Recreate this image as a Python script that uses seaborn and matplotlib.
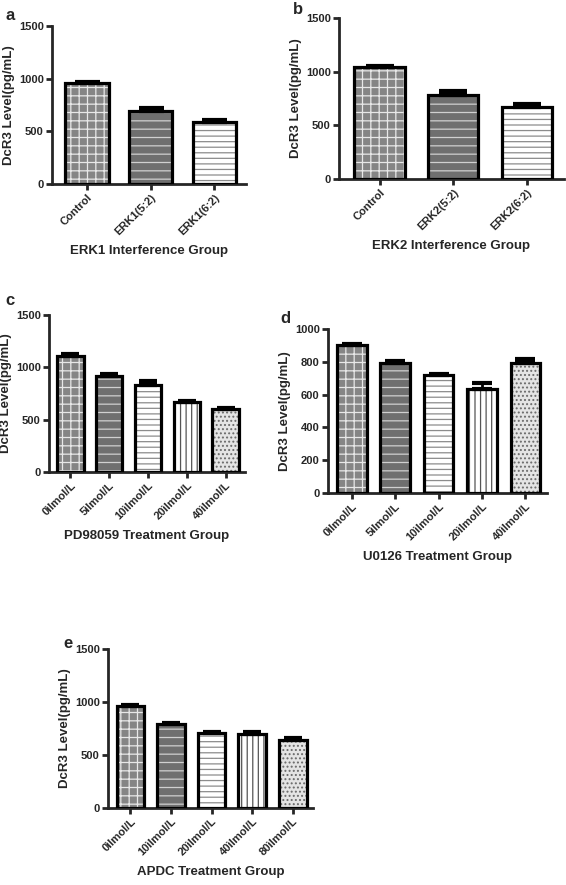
import numpy as np
import pandas as pd
import matplotlib
matplotlib.use('Agg')
import matplotlib.pyplot as plt
import seaborn as sns
from matplotlib.patches import Rectangle

# values: bar height and upper error bar length
erk1_groups = ['Control', 'ERK1(5:2)', 'ERK1(6:2)']
erk1_mean = [960, 695, 590]
erk1_err = [6, 25, 15]

erk2_groups = ['Control', 'ERK2(5:2)', 'ERK2(6:2)']
erk2_mean = [1045, 785, 670]
erk2_err = [10, 35, 30]

pd_groups = ['0ìlmol/L', '5ìlmol/L', '10ìlmol/L', '20ìlmol/L', '40ìlmol/L']
pd_mean = [1110, 915, 835, 665, 605]
pd_err = [15, 20, 30, 10, 5]

u0_groups = ['0ìlmol/L', '5ìlmol/L', '10ìlmol/L', '20ìlmol/L', '40ìlmol/L']
u0_mean = [900, 795, 720, 635, 795]
u0_err = [10, 10, 5, 35, 25]

apdc_groups = ['0ìlmol/L', '10ìlmol/L', '20ìlmol/L', '40ìlmol/L', '80ìlmol/L']
apdc_mean = [960, 790, 710, 700, 640]
apdc_err = [10, 15, 3, 15, 20]

# bar fill styles (face, hatch, hatch colour), same order in every panel
fills = [('#858585', '++', '#e8e8e8'),
         ('#6f6f6f', '--', '#d0d0d0'),
         ('white', '---', '#8c8c8c'),
         ('white', '|||', '#555555'),
         ('#e4e4e4', '....', '#6a6a6a')]

sns.set_style('ticks')
plt.rcParams['font.family'] = ['Liberation Sans', 'DejaVu Sans']
plt.rcParams['font.weight'] = 'bold'
plt.rcParams['axes.labelweight'] = 'bold'
plt.rcParams['hatch.linewidth'] = 0.9

W, H = 566, 885
fig = plt.figure(figsize=(W / 100, H / 100), dpi=100)


def px_axes(left, top, right, bottom):
    return fig.add_axes([left / W, 1 - bottom / H, (right - left) / W, (bottom - top) / H])


def draw_panel(ax, groups, mean, err, xlabel, ymax, ystep, capsize):
    df = pd.DataFrame({'group': groups, 'level': mean})
    sns.barplot(data=df, x='group', y='level', hue='group', palette=[f[0] for f in fills[:len(groups)]],
                legend=False, width=0.68, ax=ax, saturation=1)
    for i, p in enumerate(ax.patches):
        face, hatch, hc = fills[i]
        p.set_hatch(hatch)
        p.set_edgecolor(hc)
        p.set_linewidth(0)
        ax.add_patch(Rectangle((p.get_x(), p.get_y()), p.get_width(), p.get_height(),
                               fill=False, edgecolor='black', linewidth=2.3, zorder=3))
        ax.errorbar(p.get_x() + p.get_width() / 2, p.get_height(), yerr=[[0], [err[i]]],
                    color='black', elinewidth=2, capsize=capsize, capthick=3, zorder=4)
    ax.set_ylim(0, ymax)
    ax.set_yticks(np.arange(0, ymax + 1, ystep))
    ax.set_xlim(-0.55, len(groups) - 0.5)
    ax.set_xlabel(xlabel, fontsize=9.5, fontweight='bold', labelpad=6)
    ax.set_ylabel('DcR3 Level(pg/mL)', fontsize=9.5, fontweight='bold', labelpad=3)
    ax.tick_params(axis='both', direction='out', length=4, width=2, labelsize=8, pad=2)
    plt.setp(ax.get_xticklabels(), rotation=45, ha='right', rotation_mode='anchor', fontweight='bold')
    plt.setp(ax.get_yticklabels(), fontweight='bold')
    sns.despine(ax=ax)
    for s in ['left', 'bottom']:
        ax.spines[s].set_linewidth(2)


ax_a = px_axes(52, 26, 246, 184)
draw_panel(ax_a, erk1_groups, erk1_mean, erk1_err, 'ERK1 Interference Group', 1500, 500, 9)
ax_b = px_axes(339, 18, 564, 179)
draw_panel(ax_b, erk2_groups, erk2_mean, erk2_err, 'ERK2 Interference Group', 1500, 500, 10)
ax_c = px_axes(49, 315, 245, 472)
draw_panel(ax_c, pd_groups, pd_mean, pd_err, 'PD98059 Treatment Group', 1500, 500, 6.5)
ax_d = px_axes(328, 329, 547, 493)
draw_panel(ax_d, u0_groups, u0_mean, u0_err, 'U0126 Treatment Group', 1000, 200, 7)
ax_e = px_axes(108, 649, 313, 808)
draw_panel(ax_e, apdc_groups, apdc_mean, apdc_err, 'APDC Treatment Group', 1500, 500, 6.5)

for letter, x, y in [('a', 6, 20), ('b', 293, 14), ('c', 5, 305), ('d', 280, 323), ('e', 63, 648)]:
    fig.text(x / W, 1 - y / H, letter, fontsize=12, fontweight='bold')

fig.savefig('out.png', dpi=100)
